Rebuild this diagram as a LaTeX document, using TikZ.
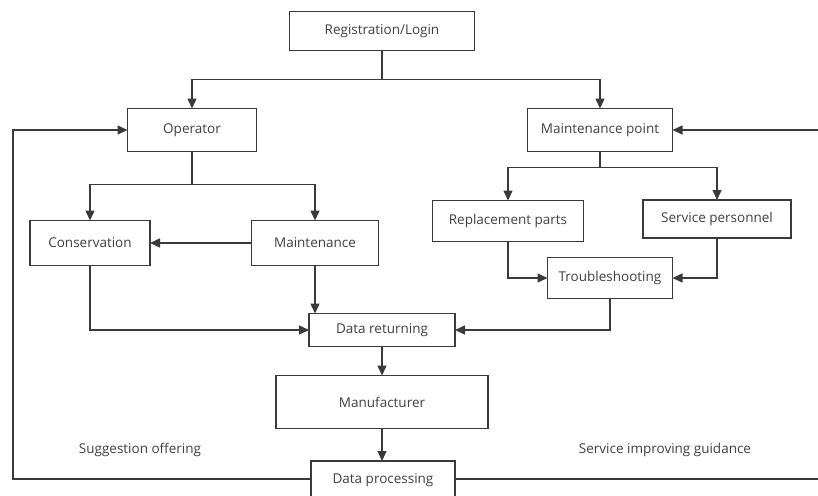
\documentclass[tikz,border=0pt]{standalone}
\usepackage{fontspec}
\setmainfont{Open Sans}
\usetikzlibrary{arrows.meta,positioning}

\definecolor{linegray}{HTML}{3A3A3A}
\definecolor{textgray}{HTML}{404040}

\tikzset{
  box/.style={draw=linegray, line width=1.5pt, inner sep=0pt, outer sep=0pt,
    font=\fontsize{13.5}{16}\selectfont, text=textgray},
  flow/.style={draw=linegray, line width=1.5pt, -{Triangle[length=10pt,width=9pt]}},
  note/.style={font=\fontsize{13.5}{16}\selectfont, text=textgray}
}

\begin{document}
\begin{tikzpicture}[x=1pt,y=-1pt]
      \useasboundingbox (0,0) rectangle (818,495);

      % Top
      \node[box, minimum width=185, minimum height=39] (reg) at (382,31) {Registration/Login};
      \node[box, minimum width=129, minimum height=43] (op) at (192,130) {Operator};
      \node[box, minimum width=145, minimum height=43] (mp) at (600,130) {Maintenance point};

      % Operator side
      \node[box, minimum width=120, minimum height=45] (cons) at (90,243) {Conservation};
      \node[box, minimum width=127, minimum height=45] (mnt) at (315,243) {Maintenance};

      % Maintenance point side
      \node[box, minimum width=151, minimum height=41] (rep) at (508,221) {Replacement parts};
      \node[box, minimum width=148, minimum height=38] (serv) at (717,219) {Service personnel};
      \node[box, minimum width=125, minimum height=41] (ts) at (610,278) {Troubleshooting};

      % Centre column
      \node[box, minimum width=146, minimum height=33] (dr) at (382,330) {Data returning};
      \node[box, minimum width=212, minimum height=53] (mfr) at (382,402) {Manufacturer};
      \node[box, minimum width=144, minimum height=38] (dp) at (383,480) {Data processing};

      \node[note] (sug) at (140,450) {Suggestion offering};
      \node[note] (svc) at (665,450) {Service improving guidance};

      % loop corners (right one lies past the page edge)
      \coordinate (lb) at (13,479);
      \coordinate (rb) at (824,479);

      \draw[flow] (reg.south) -- ++(0,29) -| (op.north);
      \draw[flow] (reg.south) -- ++(0,29) -| (mp.north);

      \draw[flow] (op.south) -- ++(0,33) -| (cons.north);
      \draw[flow] (op.south) -- ++(0,33) -| (mnt.north);
      \draw[flow] (mnt.west) -- (cons.east);

      \draw[flow] (mp.south) -- ++(0,16) -| (rep.north);
      \draw[flow] (mp.south) -- ++(0,16) -| (serv.north);
      \draw[flow] (rep.south) |- (ts.west);
      \draw[flow] (serv.south) |- (ts.east);

      \draw[flow] (cons.south) |- (dr.west);
      \draw[flow] (mnt.south) -- (mnt.south |- dr.north);
      \draw[flow] (ts.south) |- (dr.east);

      \draw[flow] (dr.south) -- (mfr.north);
      \draw[flow] (mfr.south) -- (mfr.south |- dp.north);

      % Feedback loops
      \draw[flow] (dp.west |- lb) -- (lb) |- (op.west);
      \draw[flow] (dp.east |- rb) -- (rb) |- (mp.east);
\end{tikzpicture}
\end{document}
